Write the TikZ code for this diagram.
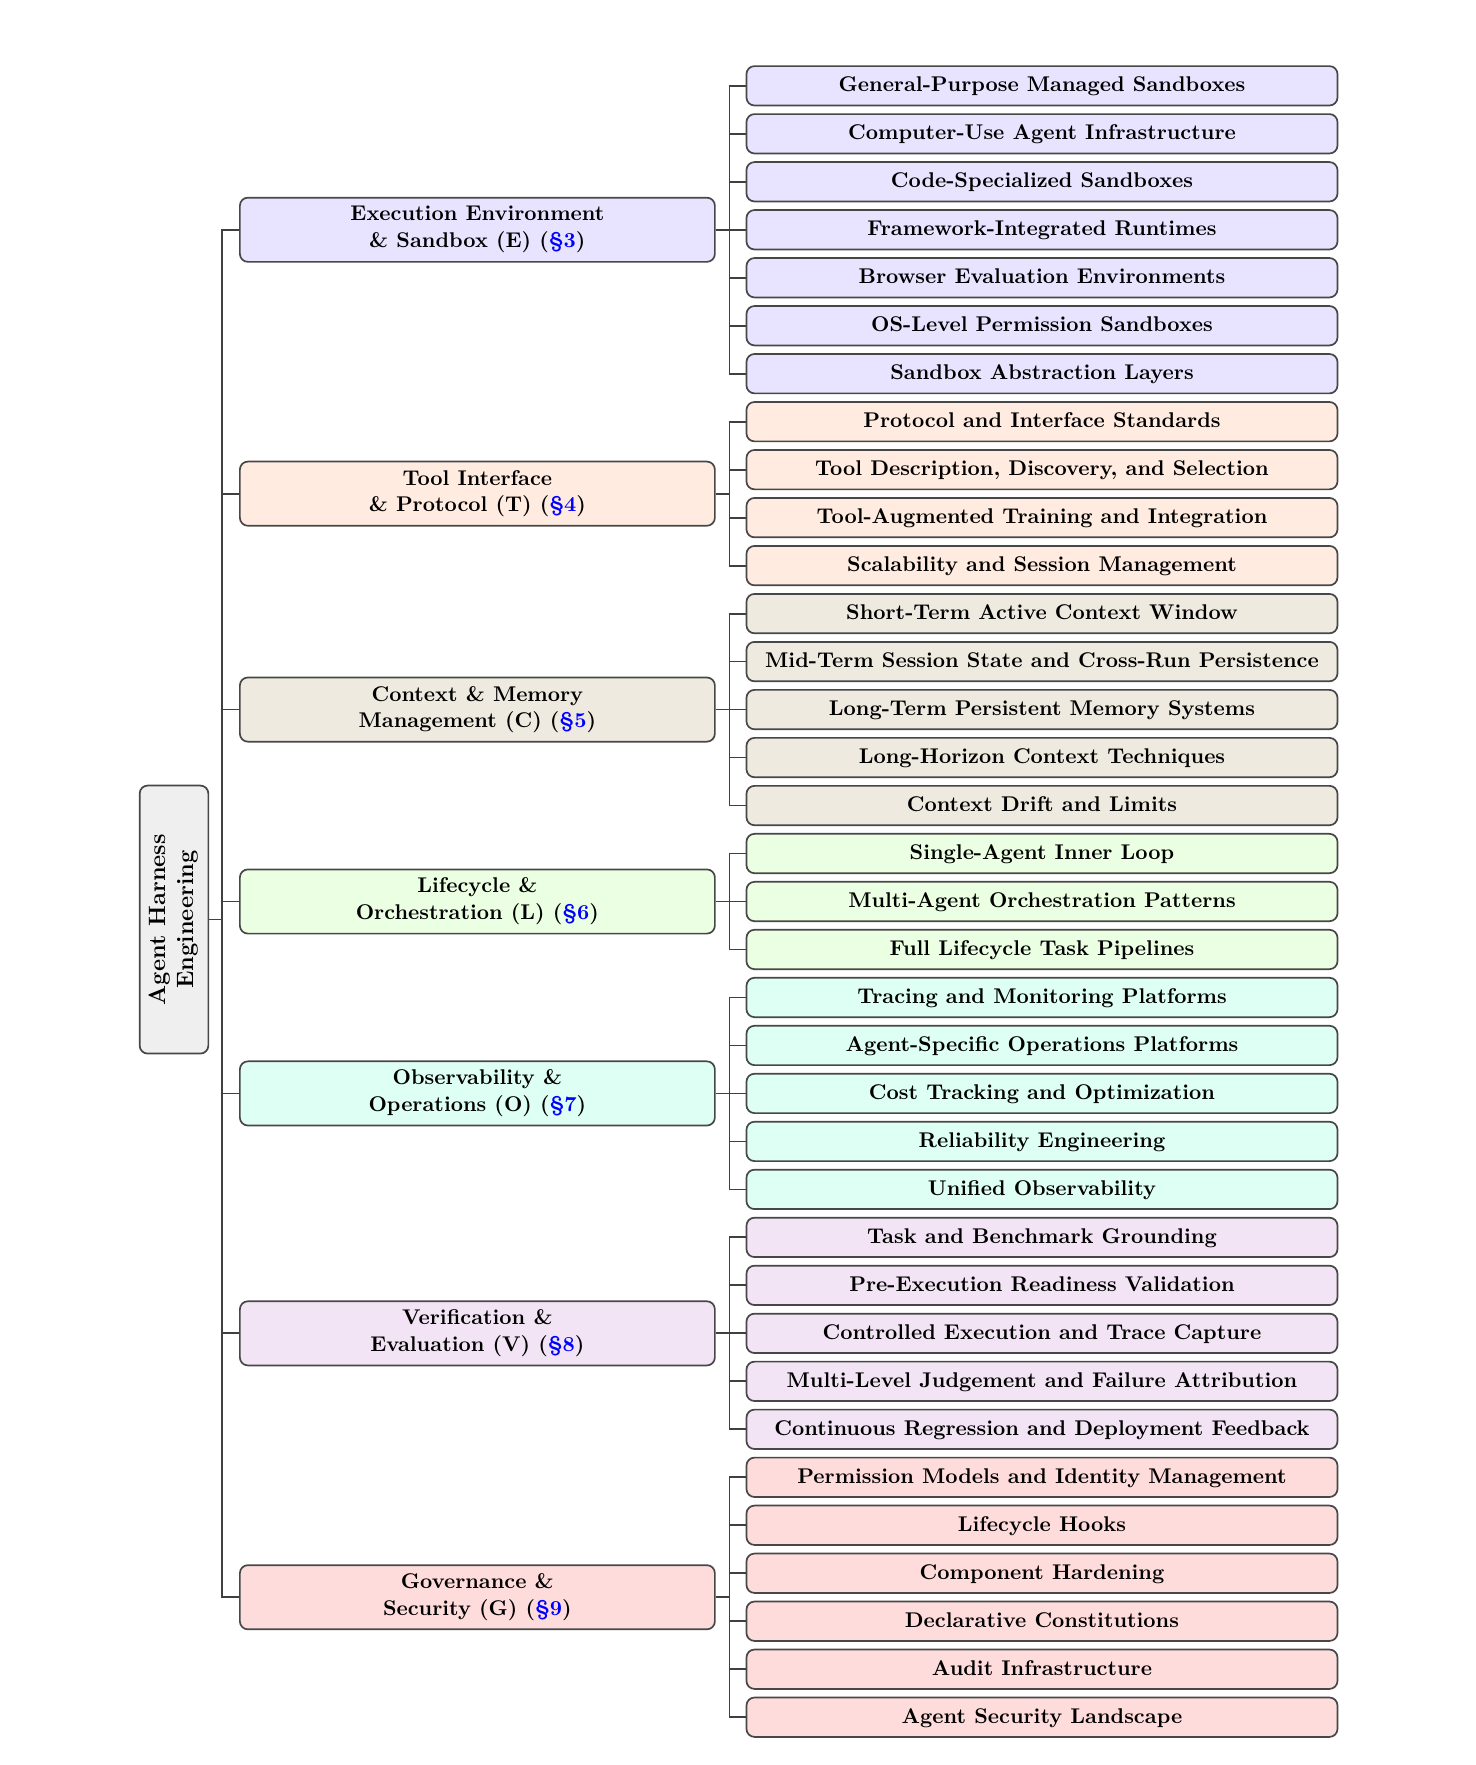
\documentclass[tikz,border=0pt]{standalone}
\usepackage{xcolor}
\usepackage{tikz}
\usetikzlibrary{positioning,calc}
\definecolor{colE}{HTML}{E8E4FF}
\definecolor{colT}{HTML}{FFEBE0}
\definecolor{colC}{HTML}{EEEAE0}
\definecolor{colL}{HTML}{EBFFE3}
\definecolor{colO}{HTML}{DEFFF3}
\definecolor{colV}{HTML}{F2E4F4}
\definecolor{colG}{HTML}{FFDCDC}
\definecolor{colR}{HTML}{EFEFEF}
\newcommand{\secmark}[1]{\textcolor{blue}{\S#1}}
\tikzset{
  box/.style      = {draw=black!72, rounded corners=4pt, line width=0.85pt, font=\bfseries, align=center, inner sep=2pt},
  rootbox/.style  = {box, fill=colR, minimum width=4.71cm, minimum height=1.207cm, font=\fontsize{11.8}{14}\selectfont\bfseries},
  catbox/.style   = {box, minimum width=8.347cm, minimum height=1.128cm, font=\fontsize{10.65}{13.4}\selectfont\bfseries},
  leafbox/.style  = {box, minimum width=10.386cm, minimum height=0.692cm, text height=1.85ex, text depth=0.45ex, font=\fontsize{10.65}{12.8}\selectfont\bfseries},
  edge/.style     = {draw=black!75, line width=0.9pt},
}

\begin{document}
\begin{tikzpicture}[x=1cm,y=1cm]
  \useasboundingbox (0,0) rectangle (25.938,-31.017);
  \coordinate (mtrunk) at (3.898,0);
  \coordinate (ltrunk) at (12.821,0);

  % leaves
  \foreach \i/\c/\t in {%
    0/colE/{General-Purpose Managed Sandboxes},
    1/colE/{Computer-Use Agent Infrastructure},
    2/colE/{Code-Specialized Sandboxes},
    3/colE/{Framework-Integrated Runtimes},
    4/colE/{Browser Evaluation Environments},
    5/colE/{OS-Level Permission Sandboxes},
    6/colE/{Sandbox Abstraction Layers},
    7/colT/{Protocol and Interface Standards},
    8/colT/{Tool Description, Discovery, and Selection},
    9/colT/{Tool-Augmented Training and Integration},
    10/colT/{Scalability and Session Management},
    11/colC/{Short-Term Active Context Window},
    12/colC/{Mid-Term Session State and Cross-Run Persistence},
    13/colC/{Long-Term Persistent Memory Systems},
    14/colC/{Long-Horizon Context Techniques},
    15/colC/{Context Drift and Limits},
    16/colL/{Single-Agent Inner Loop},
    17/colL/{Multi-Agent Orchestration Patterns},
    18/colL/{Full Lifecycle Task Pipelines},
    19/colO/{Tracing and Monitoring Platforms},
    20/colO/{Agent-Specific Operations Platforms},
    21/colO/{Cost Tracking and Optimization},
    22/colO/{Reliability Engineering},
    23/colO/{Unified Observability},
    24/colV/{Task and Benchmark Grounding},
    25/colV/{Pre-Execution Readiness Validation},
    26/colV/{Controlled Execution and Trace Capture},
    27/colV/{Multi-Level Judgement and Failure Attribution},
    28/colV/{Continuous Regression and Deployment Feedback},
    29/colG/{Permission Models and Identity Management},
    30/colG/{Lifecycle Hooks},
    31/colG/{Component Hardening},
    32/colG/{Declarative Constitutions},
    33/colG/{Audit Infrastructure},
    34/colG/{Agent Security Landscape}}
  {
    \node[leafbox, fill=\c] (l\i) at (18.311,{-1.508-0.8432*\i}) {\t};
  }

  % root
  \node[rootbox, rotate=90] (root) at (3.058,-16.16) {Agent Harness\\Engineering};

  % categories and forks
  \foreach \n/\a/\b/\c/\t in {%
    E/0/6/colE/{Execution Environment\\\& Sandbox (E) (\secmark{3})},
    T/7/10/colT/{Tool Interface\\\& Protocol (T) (\secmark{4})},
    C/11/15/colC/{Context \& Memory\\Management (C) (\secmark{5})},
    L/16/18/colL/{Lifecycle \&\\Orchestration (L) (\secmark{6})},
    O/19/23/colO/{Observability \&\\Operations (O) (\secmark{7})},
    V/24/28/colV/{Verification \&\\Evaluation (V) (\secmark{8})},
    G/29/34/colG/{Governance \&\\Security (G) (\secmark{9})}}
  {
    \pgfmathsetmacro{\y}{-1.508-0.8432*(\a+\b)/2}
    \node[catbox, fill=\c] (\n) at (8.389,\y) {\t};
    \draw[edge] (root.south) -- (root.south -| mtrunk) |- (\n.west);
    \foreach \i in {\a,...,\b}
      \draw[edge] (\n.east) -- (\n.east -| ltrunk) |- (l\i.west);
  }
\end{tikzpicture}
\end{document}
